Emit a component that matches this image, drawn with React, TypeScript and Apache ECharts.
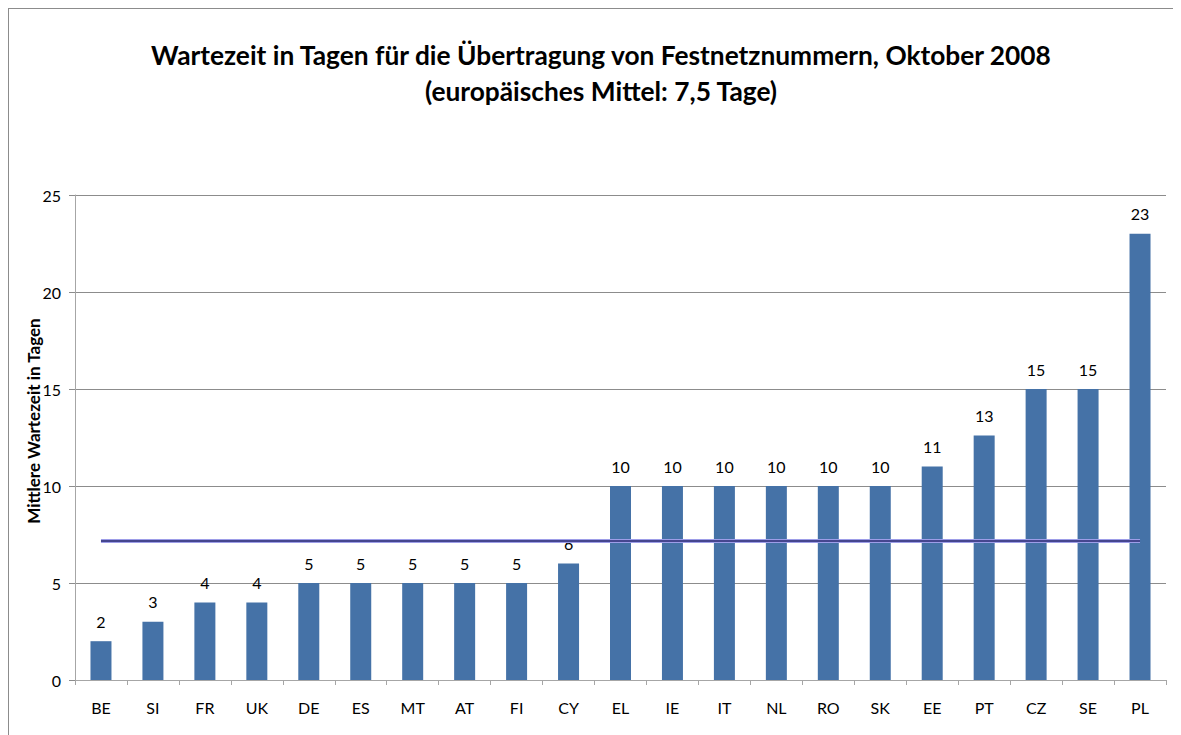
import React, { useEffect, useRef } from "react";
import * as echarts from "echarts";

const categories = ["BE", "SI", "FR", "UK", "DE", "ES", "MT", "AT", "FI", "CY", "EL", "IE", "IT", "NL", "RO", "SK", "EE", "PT", "CZ", "SE", "PL"];
const waitDays = [2, 3, 4, 4, 5, 5, 5, 5, 5, 6, 10, 10, 10, 10, 10, 10, 11, 12.6, 15, 15, 23];
const meanValue = 7.2;
const yTicks = [0, 5, 10, 15, 20, 25];

const titleText = "Wartezeit in Tagen für die Übertragung von Festnetznummern, Oktober 2008\n(europäisches Mittel: 7,5 Tage)";
const yAxisTitle = "Mittlere Wartezeit in Tagen";

const FONT = "Lato, 'Open Sans', sans-serif";
const W = 1165;
const H = 727;

export default function App() {
  const ref = useRef<HTMLDivElement>(null);
  useEffect(() => {
    if (!ref.current) return;
    const chart = echarts.init(ref.current, undefined, { renderer: "svg" });
    chart.setOption({
      animation: false,
      backgroundColor: "#ffffff",
      title: {
        text: titleText,
        left: 588,
        top: 24,
        textAlign: "center",
        textStyle: { fontFamily: FONT, fontSize: 26.3, fontWeight: "bold", color: "#000", lineHeight: 36 },
      },
      graphic: [
        { type: "line", shape: { x1: 0.5, y1: 0, x2: 0.5, y2: H }, style: { stroke: "#8c8c8c", lineWidth: 1 } },
        { type: "line", shape: { x1: 0, y1: 0.5, x2: W, y2: 0.5 }, style: { stroke: "#8c8c8c", lineWidth: 1 } },
        {
          type: "text",
          x: 25,
          y: 413,
          rotation: Math.PI / 2,
          style: { text: yAxisTitle, fontFamily: FONT, fontSize: 17, fontWeight: "bold", fill: "#000", textAlign: "center", textVerticalAlign: "middle" },
        },
      ],
      grid: { left: 67, right: W - 1158, top: 187, bottom: H - 672, containLabel: false },
      xAxis: {
        type: "category",
        data: categories,
        boundaryGap: true,
        axisLine: { lineStyle: { color: "#a6a6a6", width: 1 } },
        axisTick: { show: true, alignWithLabel: false, length: 5, lineStyle: { color: "#a6a6a6" } },
        axisLabel: { fontFamily: FONT, fontSize: 16, color: "#000", margin: 19 },
      },
      yAxis: {
        type: "value",
        min: yTicks[0],
        max: yTicks[yTicks.length - 1],
        interval: 5,
        axisLine: { show: true, lineStyle: { color: "#a6a6a6", width: 1 } },
        axisTick: { show: true, length: 6, lineStyle: { color: "#8c8c8c" } },
        axisLabel: { fontFamily: FONT, fontSize: 16, color: "#000", margin: 14 },
        splitLine: { show: true, lineStyle: { color: "#8c8c8c", width: 1 } },
      },
      series: [
        {
          type: "bar",
          data: waitDays,
          barWidth: 21,
          itemStyle: { color: "#4572A7" },
          label: {
            show: true,
            position: "top",
            distance: 12,
            fontFamily: FONT,
            fontSize: 16,
            color: "#000",
            formatter: (p: any) => String(Math.round(p.value)),
          },
          markLine: {
            silent: true,
            symbol: "none",
            label: { show: false },
            data: [
              [
                { coord: [categories[0], meanValue], lineStyle: { color: "#9d9de8", width: 4, type: "solid" } },
                { coord: [categories[categories.length - 1], meanValue] },
              ],
              [
                { coord: [categories[0], meanValue], lineStyle: { color: "#45468f", width: 2, type: "solid" } },
                { coord: [categories[categories.length - 1], meanValue] },
              ],
            ],
          },
        },
      ],
    });
    return () => chart.dispose();
  }, []);
  return <div ref={ref} style={{ width: W, height: H }} />;
}
